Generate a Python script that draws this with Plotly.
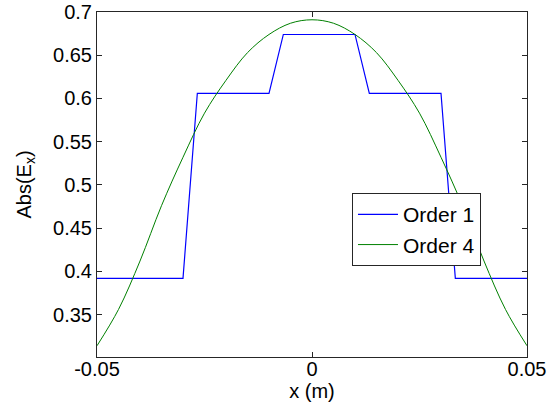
import plotly.graph_objects as go

# Order 1: piecewise-constant solution sampled on a 31-point grid
x_order1 = [-0.05 + i * (0.1 / 30) for i in range(31)]
y_order1 = [0.392] * 7 + [0.606] * 6 + [0.674] * 6 + [0.606] * 6 + [0.392] * 6

# Order 4: smooth solution read at 0.005 m spacing
x_order4 = [-0.05, -0.045, -0.04, -0.035, -0.03, -0.025, -0.02, -0.015, -0.01, -0.005, 0.0,
            0.005, 0.01, 0.015, 0.02, 0.025, 0.03, 0.035, 0.04, 0.045, 0.05]
y_order4 = [0.314, 0.356, 0.412, 0.476, 0.532, 0.583, 0.621, 0.653, 0.674, 0.687, 0.691,
            0.687, 0.674, 0.653, 0.621, 0.583, 0.532, 0.476, 0.412, 0.356, 0.314]

y_ticks = [0.35, 0.4, 0.45, 0.5, 0.55, 0.6, 0.65, 0.7]
y_tick_text = ["0.35", "0.4", "0.45", "0.5", "0.55", "0.6", "0.65", "0.7"]
x_ticks = [-0.05, 0.0, 0.05]
x_tick_text = ["-0.05", "0", "0.05"]

FONT = "Arial, Liberation Sans, Helvetica, sans-serif"

fig = go.Figure()
fig.add_trace(go.Scatter(x=x_order1, y=y_order1, mode="lines", name="Order 1",
                         line=dict(color="#0000FF", width=1.2)))
fig.add_trace(go.Scatter(x=x_order4, y=y_order4, mode="lines", name="Order 4",
                         line=dict(color="#008000", width=1, shape="spline", smoothing=1.0)))

axis_common = dict(showgrid=False, zeroline=False, showline=True, linecolor="#262626",
                   linewidth=1, mirror="ticks", ticks="inside", ticklen=5, tickcolor="#262626",
                   automargin=False,
                   tickfont=dict(family=FONT, size=20, color="black"))

fig.update_layout(
    width=548, height=414,
    margin=dict(l=97, r=21, t=12, b=57),
    paper_bgcolor="white", plot_bgcolor="white",
    font=dict(family=FONT, size=20, color="black"),
    xaxis=dict(range=[-0.05, 0.05], tickvals=x_ticks, ticktext=x_tick_text,
               ticklabelstandoff=-6,
               title=dict(text="x (m)", standoff=0, font=dict(family=FONT, size=20)),
               **axis_common),
    yaxis=dict(range=[0.301, 0.7], tickvals=y_ticks, ticktext=y_tick_text,
               title=dict(text="Abs(E<sub>x</sub>)", standoff=16, font=dict(family=FONT, size=20)),
               **axis_common),
    legend=dict(x=0.593, y=0.475, xanchor="left", yanchor="top",
                bgcolor="white", bordercolor="#262626", borderwidth=1,
                font=dict(family=FONT, size=21), tracegroupgap=0, itemwidth=40),
    showlegend=True,
)

fig.write_html("out.html")
